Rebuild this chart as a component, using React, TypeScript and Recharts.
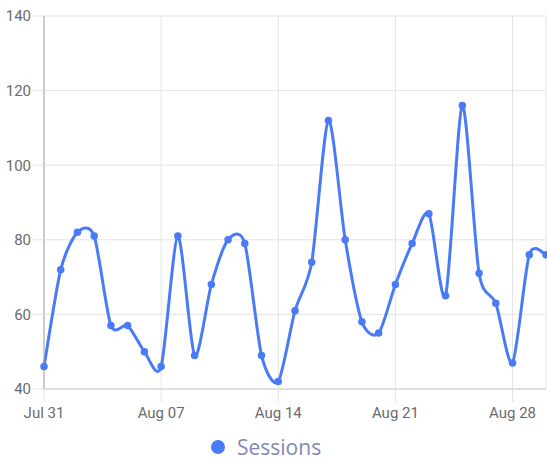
import { CartesianGrid, Legend, Line, LineChart, XAxis, YAxis } from "recharts";

const dates = [
  "Jul 31", "Aug 01", "Aug 02", "Aug 03", "Aug 04", "Aug 05", "Aug 06", "Aug 07",
  "Aug 08", "Aug 09", "Aug 10", "Aug 11", "Aug 12", "Aug 13", "Aug 14", "Aug 15",
  "Aug 16", "Aug 17", "Aug 18", "Aug 19", "Aug 20", "Aug 21", "Aug 22", "Aug 23",
  "Aug 24", "Aug 25", "Aug 26", "Aug 27", "Aug 28", "Aug 29", "Aug 30",
];

const sessions = [
  46, 72, 82, 81, 57, 57, 50, 46,
  81, 49, 68, 80, 79, 49, 42, 61,
  74, 112, 80, 58, 55, 68, 79, 87,
  65, 116, 71, 63, 47, 76, 76,
];

const yTicks = [40, 60, 80, 100, 120, 140];

const data = dates.map((date, i) => ({ date, sessions: sessions[i] }));

const blue = "#4a7bf7";

// smooth curve close to the google "function" curve (cardinal, a bit tighter)
const smoothCurve = (context: any) => {
  let pts: number[][] = [];
  return {
    areaStart() {},
    areaEnd() {},
    lineStart() {
      pts = [];
    },
    point(x: number, y: number) {
      pts.push([+x, +y]);
    },
    lineEnd() {
      if (!pts.length) return;
      const k = 0.13;
      context.moveTo(pts[0][0], pts[0][1]);
      for (let i = 0; i < pts.length - 1; i++) {
        const p0 = pts[i - 1] || pts[i];
        const p1 = pts[i];
        const p2 = pts[i + 1];
        const p3 = pts[i + 2] || p2;
        context.bezierCurveTo(
          p1[0] + k * (p2[0] - p0[0]),
          p1[1] + k * (p2[1] - p0[1]),
          p2[0] - k * (p3[0] - p1[0]),
          p2[1] - k * (p3[1] - p1[1]),
          p2[0],
          p2[1]
        );
      }
    },
  };
};

const renderLegend = () => (
  <div style={{ display: "flex", alignItems: "center", height: 30, paddingLeft: 211 }}>
    <span
      style={{ width: 14, height: 14, borderRadius: 7, background: blue, display: "inline-block" }}
    />
    <span
      style={{
        marginLeft: 12,
        fontFamily: "'Open Sans', sans-serif",
        fontSize: 21,
        color: "#7f89b3",
      }}
    >
      Sessions
    </span>
  </div>
);

const App = () => {
  return (
    <div style={{ position: "absolute", left: 0, top: 0 }}>
      <LineChart
        width={547}
        height={466}
        data={data}
        margin={{ top: 16, right: 1, bottom: 4, left: 0 }}
      >
        <CartesianGrid stroke="#e3e3e3" />
        <XAxis
          dataKey="date"
          interval={6}
          height={43}
          tickSize={13}
          tickMargin={5}
          stroke="#cccccc"
          tickLine={{ stroke: "#e3e3e3" }}
          tick={{ fill: "#6b6b6b", fontSize: 15, fontFamily: "Roboto" }}
        />
        <YAxis
          domain={[40, 140]}
          ticks={yTicks}
          width={44}
          tickSize={11}
          tickMargin={2}
          stroke="#a6a6a6"
          tickLine={{ stroke: "#e3e3e3" }}
          tick={{ fill: "#6b6b6b", fontSize: 15, fontFamily: "Roboto" }}
        />
        <Legend verticalAlign="bottom" height={30} content={renderLegend} />
        <Line
          type={smoothCurve as any}
          dataKey="sessions"
          name="Sessions"
          stroke={blue}
          strokeWidth={3}
          dot={{ r: 3, fill: blue, stroke: blue, strokeWidth: 1.5 }}
          isAnimationActive={false}
        />
      </LineChart>
    </div>
  );
};

export default App;
